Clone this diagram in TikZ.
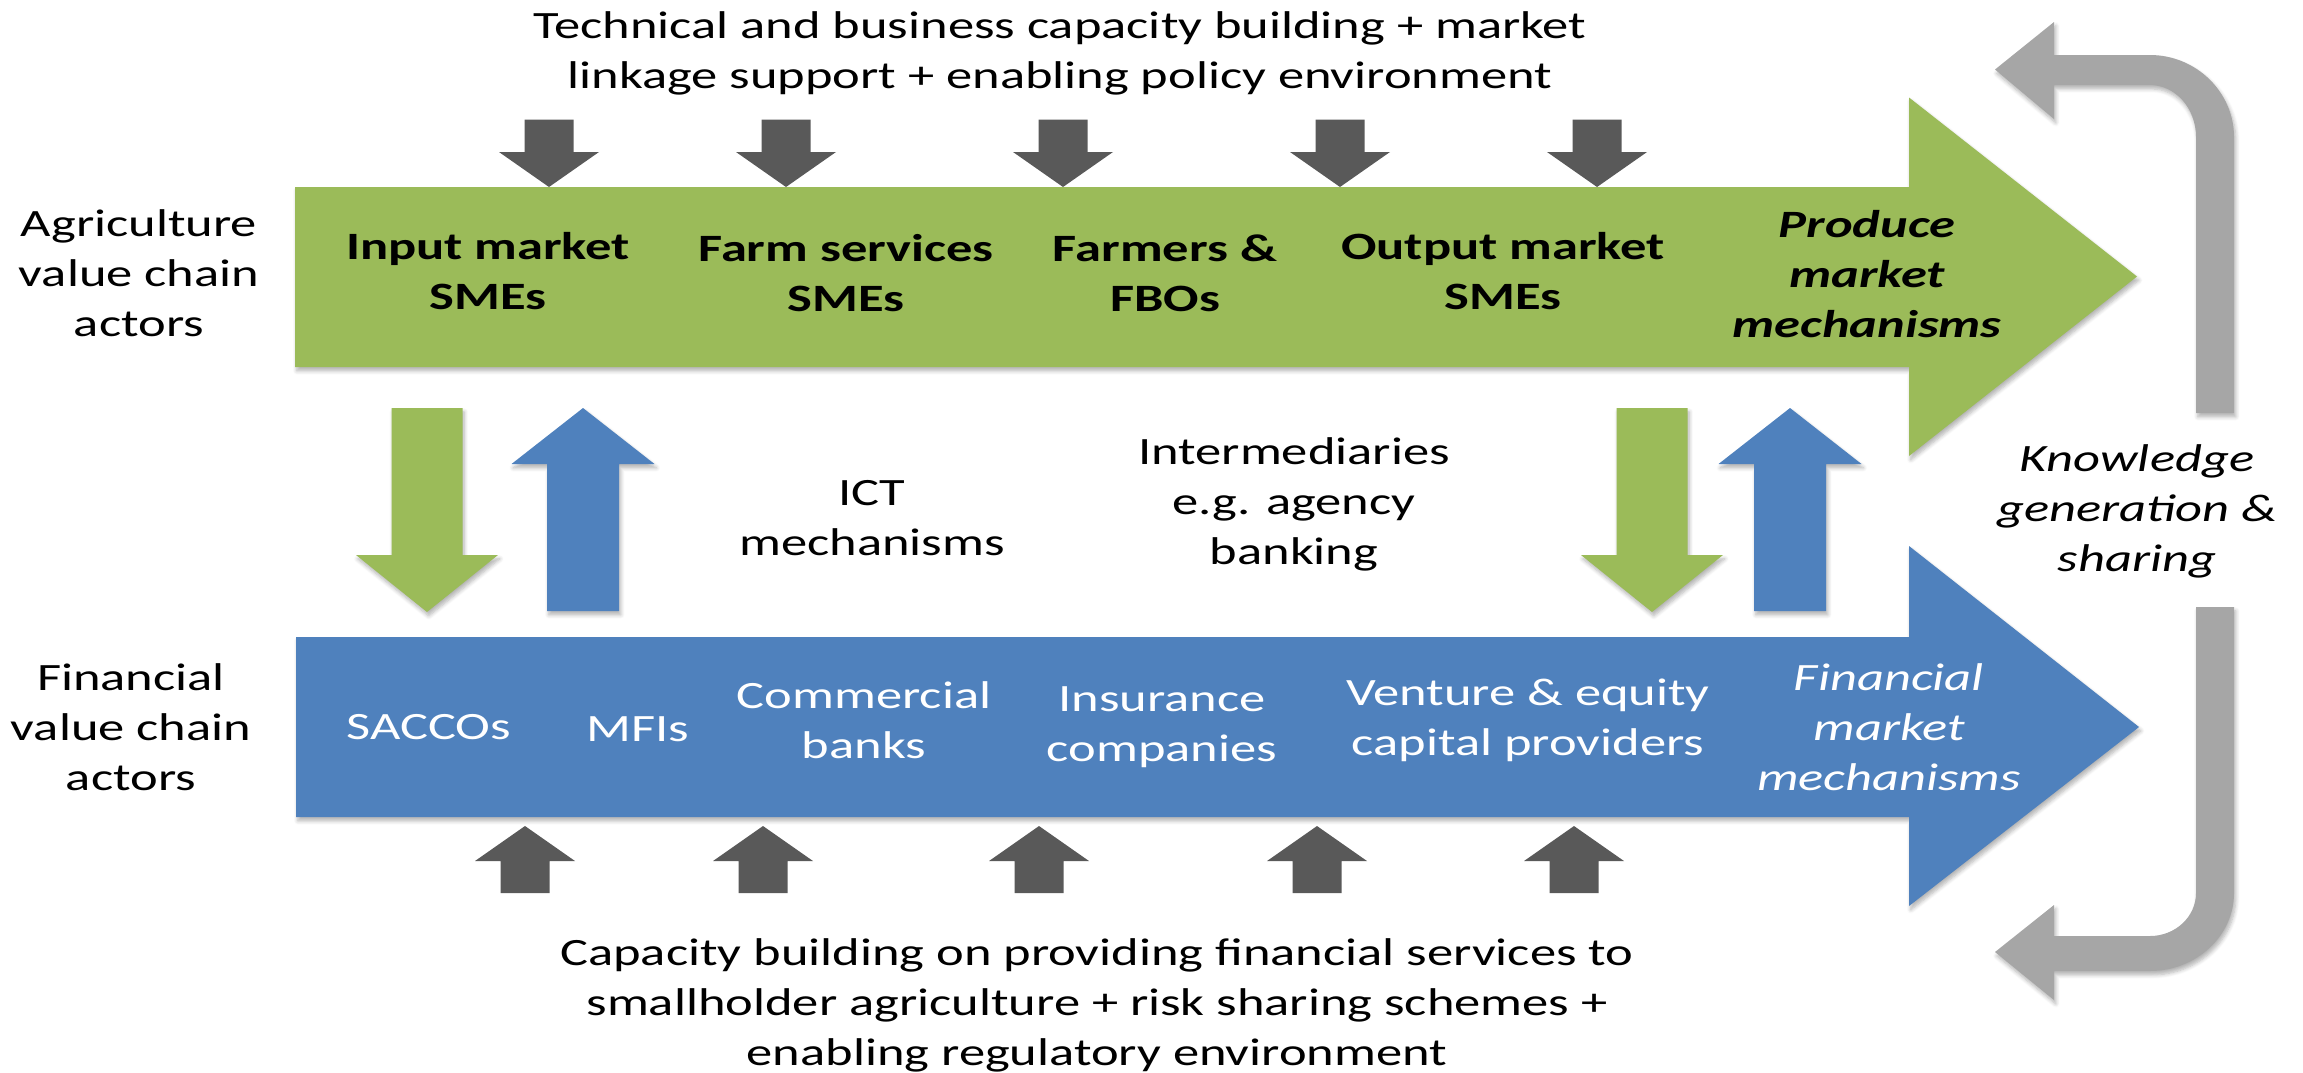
\documentclass[tikz,border=0pt]{standalone}
\usepackage{fontspec}
\setmainfont{Carlito}[FakeStretch=1.357]
\usetikzlibrary{shadows.blur}
\definecolor{agrigreen}{HTML}{9BBB59}
\definecolor{finblue}{HTML}{4F81BD}
\definecolor{supportgray}{HTML}{595959}
\definecolor{loopgray}{HTML}{A6A6A6}

% vertical block arrow: #1 style, #2 x of axis, #3 tip y, #4 tail y,
% #5 shaft half width, #6 head half width, #7 y of head base
\newcommand\vblockarrow[7]{%
  \fill[#1] ({#2-#5},#4) -- ({#2+#5},#4) -- ({#2+#5},#7) -- ({#2+#6},#7)
    -- (#2,#3) -- ({#2-#6},#7) -- ({#2-#5},#7) -- cycle;}

\begin{document}
\begin{tikzpicture}[x=0.01cm,y=-0.01cm,
  softshadow/.style={blur shadow={shadow xshift=0.5pt, shadow yshift=-1.1pt,
      shadow blur radius=1.1pt, shadow blur steps=6, shadow opacity=30}},
  every node/.style={font=\fontsize{11}{14.2}\selectfont, align=center, inner sep=0pt},
  agri/.style={fill=agrigreen, softshadow},
  fin/.style={fill=finblue, softshadow},
  support/.style={fill=supportgray},
  loop/.style={fill=loopgray, softshadow},
  actor/.style={font=\fontsize{11}{14.2}\selectfont\bfseries},
  mech/.style={font=\fontsize{11}{14.2}\selectfont\bfseries\itshape},
  finactor/.style={text=white},
  finmech/.style={text=white, font=\fontsize{11}{14.2}\selectfont\itshape},
  loopnote/.style={font=\fontsize{11}{14.2}\selectfont\itshape}]
\useasboundingbox (0,0) rectangle (2303,1072);

% main value chains
\fill[agri] (295,187) -- (1909,187) -- (1909,97.5) -- (2137,276.5)
  -- (1909,456) -- (1909,367) -- (295,367) -- cycle;
\fill[fin] (296,637) -- (1909,637) -- (1909,546) -- (2139,727)
  -- (1909,906) -- (1909,817) -- (296,817) -- cycle;

% support pushing down on the agricultural chain
\foreach \x in {549,786,1063,1340,1597}
  \vblockarrow{support}{\x}{187}{119.5}{24.5}{50}{152};
% support pushing up on the financial chain
\foreach \x in {525,763,1039,1317,1574}
  \vblockarrow{support}{\x}{826}{893}{24.5}{50}{861};

% exchanges between the two chains
\vblockarrow{agri}{427}{612}{408}{35.5}{71}{555}
\vblockarrow{fin}{583}{408}{611}{36}{71.5}{464}
\vblockarrow{agri}{1652}{612}{408}{35.5}{71}{555}
\vblockarrow{fin}{1790}{408}{611}{36}{71.5}{464}

% knowledge loop
\fill[loop] (2234,413) -- (2234,137) .. controls (2234,92) and (2196,55) .. (2150,55)
  -- (2054,55) -- (2054,22) -- (1995,69.5) -- (2054,119) -- (2054,85) -- (2150,85)
  .. controls (2175,85) and (2196,108) .. (2196,137) -- (2196,413) -- cycle;
\fill[loop] (2234,607) -- (2234,893) .. controls (2234,936) and (2196,971) .. (2150,971)
  -- (2054,971) -- (2054,1000) -- (1995,952) -- (2054,905) -- (2054,936) -- (2150,936)
  .. controls (2175,936) and (2196,917) .. (2196,893) -- (2196,607) -- cycle;

% texts
\node (agrisupport) at (1060,53) {Technical and business capacity building + market\\linkage support + enabling policy environment};
\node (agrititle) at (139,273) {Agriculture\\value chain\\actors};
\node[actor] (inputsme) at (488,271) {Input market\\SMEs};
\node[actor] (farmsme) at (846,273) {Farm services\\SMEs};
\node[actor] (farmers) at (1165,273) {Farmers \&\\FBOs};
\node[actor] (outputsme) at (1503,271) {Output market\\SMEs};
\node[mech] (producemkt) at (1867,274) {Produce\\market\\mechanisms};

\node (ict) at (872,518) {ICT\\mechanisms};
\node (intermed) at (1294,504) {Intermediaries\\e.g. agency\\banking};
\node[loopnote] (knowledge) at (2137,511) {Knowledge\\generation \&\\sharing};

\node (fintitle) at (131,727) {Financial\\value chain\\actors};
\node[finactor] (saccos) at (429,727) {SACCOs};
\node[finactor] (mfis) at (638,729) {MFIs};
\node[finactor] (banks) at (864,720) {Commercial\\banks};
\node[finactor] (insurers) at (1162,727) {Insurance\\companies};
\node[finactor] (venture) at (1528,720) {Venture \& equity\\capital providers};
\node[finmech] (finmkt) at (1889,727) {Financial\\market\\mechanisms};

\node (finsupport) at (1097,1005) {Capacity building on providing financial services to\\smallholder agriculture + risk sharing schemes +\\enabling regulatory environment};
\end{tikzpicture}
\end{document}
